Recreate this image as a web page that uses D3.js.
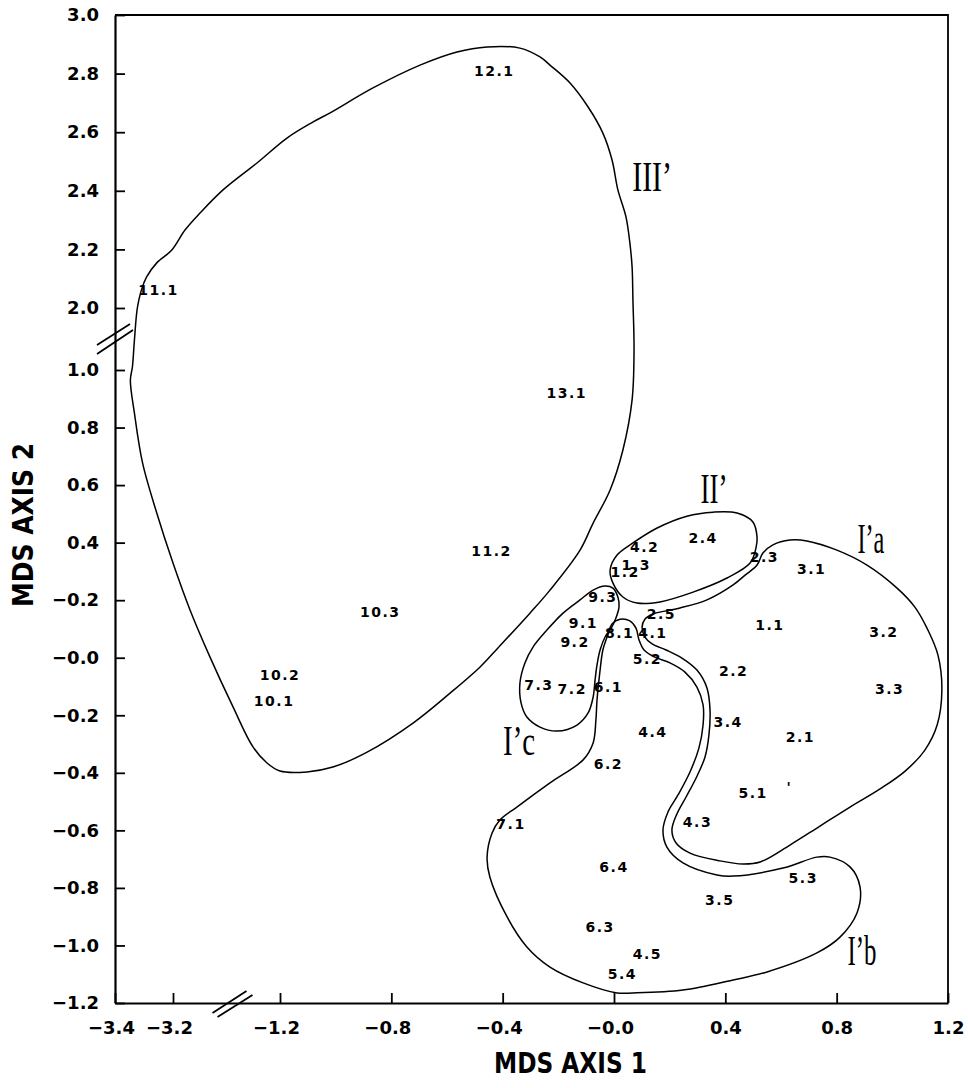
<!DOCTYPE html>
<html><head><meta charset="utf-8">
<script src="https://cdn.jsdelivr.net/npm/d3@7"></script>
<style>
body{margin:0;background:#fff;}
svg{display:block;}
</style></head>
<body>
<svg id="chart" width="968" height="1088"></svg>
<script>
// ---- tick values & labels ----
const xTickValues = [-3.4,-3.2,-1.2,-0.8,-0.4,0.0,0.4,0.8,1.2];
const xTickLabels = ["−3.4","−3.2","−1.2","−0.8","−0.4","−0.0","0.4","0.8","1.2"];
const yTickValues = [-1.2,-1.0,-0.8,-0.6,-0.4,-0.2,0.0,0.2,0.4,0.6,0.8,1.0,2.0,2.2,2.4,2.6,2.8,3.0];
const yTickLabels = ["−1.2","−1.0","−0.8","−0.6","−0.4","−0.2","−0.0","−0.2","0.4","0.6","0.8","1.0","2.0","2.2","2.4","2.6","2.8","3.0"];

// ---- point labels (MDS coordinates) ----
const pointNames = ["12.1","13.1","11.1","11.2","10.3","10.2","10.1","4.2","2.4","2.3","1.3","1.2","9.3","2.5","9.1","8.1","4.1","9.2","5.2","1.1","2.2","3.1","3.2","3.3","3.4","2.1","7.3","7.2","6.1","4.4","6.2","5.1","7.1","4.3","6.4","5.3","3.5","6.3","4.5","5.4","'"];
const pointX = [-0.43,-0.17,-3.25,-0.44,-0.84,-1.20,-1.31,0.11,0.32,0.54,0.08,0.04,-0.04,0.17,-0.11,0.02,0.14,-0.14,0.12,0.56,0.43,0.71,0.97,0.99,0.41,0.67,-0.27,-0.15,-0.02,0.14,-0.02,0.50,-0.37,0.30,0.00,0.68,0.38,-0.05,0.12,0.03,0.63];
const pointY = [2.81,0.92,2.06,0.37,0.16,-0.06,-0.15,0.385,0.416,0.35,0.322,0.298,0.211,0.152,0.121,0.086,0.086,0.055,-0.005,0.114,-0.046,0.308,0.089,-0.109,-0.223,-0.276,-0.095,-0.109,-0.102,-0.258,-0.369,-0.47,-0.578,-0.571,-0.727,-0.766,-0.842,-0.936,-1.03,-1.099,-0.45];

// ---- region labels ----
const regionNames = ["III’","II’","I’a","I’c","I’b"];
const regionX = [0.137,0.359,0.923,-0.341,0.891];
const regionY = [2.40,0.538,0.364,-0.338,-1.068];
const regionWidth = [40,27,27,32,29];

// ---- contours (MDS coordinates) ----
const contourIII = [[-3.347,0.965],[-3.340,1.048],[-3.333,1.484],[-3.323,2.0],[-3.309,2.061],[-3.291,2.106],[-3.256,2.154],[-3.204,2.198],[-2.976,2.266],[-2.695,2.324],[-2.265,2.403],[-1.630,2.495],[-1.175,2.580],[-1.081,2.635],[-1.020,2.666],[-0.866,2.751],[-0.697,2.829],[-0.564,2.874],[-0.456,2.891],[-0.338,2.887],[-0.266,2.857],[-0.230,2.829],[-0.158,2.768],[-0.093,2.686],[-0.040,2.597],[-0.007,2.505],[0.014,2.403],[0.043,2.311],[0.057,2.222],[0.065,2.140],[0.068,2.027],[0.072,1.323],[0.065,0.896],[0.032,0.722],[-0.014,0.583],[-0.075,0.468],[-0.122,0.374],[-0.230,0.235],[-0.302,0.155],[-0.417,0.034],[-0.481,-0.032],[-0.589,-0.123],[-0.722,-0.227],[-0.887,-0.328],[-1.010,-0.380],[-1.103,-0.397],[-1.200,-0.394],[-1.443,-0.366],[-1.705,-0.310],[-2.078,-0.171],[-2.508,0.002],[-2.882,0.166],[-3.200,0.329],[-3.256,0.503],[-3.305,0.677],[-3.333,0.850]];
const contourII = [[-0.014,0.305],[0.011,0.357],[0.068,0.399],[0.155,0.451],[0.262,0.492],[0.356,0.506],[0.442,0.503],[0.499,0.472],[0.514,0.419],[0.510,0.381],[0.489,0.329],[0.406,0.277],[0.284,0.228],[0.165,0.194],[0.083,0.190],[0.032,0.211],[-0.004,0.260]];
const contourIc = [[-0.032,0.072],[-0.050,0.027],[-0.061,-0.025],[-0.068,-0.077],[-0.075,-0.137],[-0.093,-0.192],[-0.133,-0.234],[-0.205,-0.255],[-0.266,-0.241],[-0.313,-0.206],[-0.334,-0.157],[-0.338,-0.088],[-0.320,-0.018],[-0.291,0.037],[-0.241,0.096],[-0.183,0.155],[-0.122,0.201],[-0.075,0.235],[-0.032,0.249],[-0.004,0.242],[0.014,0.211],[0.018,0.176],[0.004,0.131],[-0.014,0.096]];
const contourIb = [[-0.025,0.072],[-0.007,0.117],[0.022,0.134],[0.057,0.128],[0.079,0.103],[0.090,0.062],[0.108,0.027],[0.147,0.002],[0.201,-0.018],[0.255,-0.050],[0.298,-0.102],[0.320,-0.164],[0.320,-0.234],[0.305,-0.314],[0.273,-0.397],[0.230,-0.477],[0.194,-0.536],[0.176,-0.599],[0.190,-0.658],[0.248,-0.713],[0.370,-0.755],[0.428,-0.759],[0.607,-0.731],[0.729,-0.693],[0.776,-0.693],[0.848,-0.727],[0.884,-0.797],[0.873,-0.887],[0.812,-0.971],[0.729,-1.026],[0.550,-1.092],[0.428,-1.120],[0.248,-1.155],[0.068,-1.165],[0.011,-1.165],[-0.111,-1.130],[-0.230,-1.075],[-0.313,-1.005],[-0.384,-0.901],[-0.446,-0.762],[-0.456,-0.693],[-0.438,-0.609],[-0.410,-0.564],[-0.349,-0.519],[-0.230,-0.435],[-0.111,-0.355],[-0.075,-0.296],[-0.065,-0.216],[-0.061,-0.147],[-0.050,-0.043],[-0.040,0.027]];
const contourIa = [[0.514,0.322],[0.471,0.287],[0.428,0.253],[0.334,0.201],[0.237,0.173],[0.183,0.162],[0.140,0.152],[0.111,0.134],[0.101,0.107],[0.111,0.072],[0.137,0.048],[0.187,0.027],[0.244,-0.001],[0.298,-0.043],[0.334,-0.105],[0.345,-0.182],[0.341,-0.269],[0.327,-0.345],[0.295,-0.418],[0.259,-0.484],[0.226,-0.543],[0.208,-0.599],[0.223,-0.644],[0.273,-0.679],[0.381,-0.706],[0.463,-0.717],[0.525,-0.710],[0.632,-0.651],[0.740,-0.585],[0.848,-0.519],[0.956,-0.456],[1.046,-0.394],[1.117,-0.321],[1.161,-0.234],[1.178,-0.112],[1.164,0.009],[1.128,0.096],[1.081,0.176],[1.017,0.242],[0.909,0.322],[0.801,0.374],[0.693,0.406],[0.632,0.409],[0.571,0.392],[0.535,0.364]];
const contours = [contourIII, contourII, contourIc, contourIb, contourIa];

// ---- scales (broken axes as polylinear scales) ----
const x = d3.scaleLinear().domain([-3.4,-3.2,-1.2,1.2]).range([115,173,280,948]);
const y = d3.scaleLinear().domain([-1.2,1.0,2.0,3.0]).range([1003,370,308,15]);

const svg = d3.select("#chart");
const tickFont = "'DejaVu Sans', sans-serif";

// contours
const line = d3.line().x(d => x(d[0])).y(d => y(d[1])).curve(d3.curveCatmullRomClosed.alpha(0.5));
svg.append("g").selectAll("path").data(contours).join("path")
  .attr("d", line).attr("fill", "none").attr("stroke", "#000").attr("stroke-width", 1.5);

// frame
const [x0, x1] = [x(-3.4), x(1.2)];
const [y0, y1] = [y(-1.2), y(3.0)];
svg.append("path").attr("d", `M${x0},${y1}H${x1}V${y0}`).attr("fill","none").attr("stroke","#000").attr("stroke-width",1.8);

// axes
const xAxis = d3.axisBottom(x).tickValues(xTickValues).tickFormat((d,i) => xTickLabels[i])
  .tickSizeInner(-10).tickSizeOuter(0).tickPadding(18);
const gx = svg.append("g").attr("transform", `translate(0,${y0})`).call(xAxis);
gx.select(".domain").attr("stroke-width", 2.2);
gx.selectAll(".tick line").attr("stroke-width", 1.8);
gx.selectAll(".tick text").attr("font-family", tickFont).attr("font-weight", "bold").attr("font-size", 18)
  .attr("dx", (d,i) => xTickLabels[i].startsWith("−") ? -4 : 0);

const yAxis = d3.axisLeft(y).tickValues(yTickValues).tickFormat((d,i) => yTickLabels[i])
  .tickSizeInner(-10).tickSizeOuter(0).tickPadding(16);
const gy = svg.append("g").attr("transform", `translate(${x0},0)`).call(yAxis);
gy.select(".domain").attr("stroke-width", 2.2);
gy.selectAll(".tick line").attr("stroke-width", 1.8);
gy.selectAll(".tick text").attr("font-family", tickFont).attr("font-weight", "bold").attr("font-size", 18);

// break marks
const yb = (y(1.0) + y(2.0)) / 2;
const xb = (x(-3.2) + x(-1.2)) / 2 + 6;
const breaks = svg.append("g").attr("stroke", "#000").attr("stroke-width", 1.8);
breaks.append("line").attr("x1", x0 - 18).attr("y1", yb + 6).attr("x2", x0 + 15).attr("y2", yb - 15);
breaks.append("line").attr("x1", x0 - 18).attr("y1", yb + 15).attr("x2", x0 + 18).attr("y2", yb - 9);
breaks.append("line").attr("x1", xb - 20).attr("y1", y0 + 10).attr("x2", xb + 14).attr("y2", y0 - 12);
breaks.append("line").attr("x1", xb - 15).attr("y1", y0 + 14).attr("x2", xb + 20).attr("y2", y0 - 8);

// point labels
svg.append("g").selectAll("text").data(pointNames).join("text")
  .attr("x", (d,i) => x(pointX[i])).attr("y", (d,i) => y(pointY[i]))
  .attr("dy", "0.36em").attr("text-anchor", "middle")
  .attr("font-family", tickFont).attr("font-weight", "bold").attr("font-size", 14)
  .attr("letter-spacing", 1.5)
  .text(d => d);

// region labels
svg.append("g").selectAll("text").data(regionNames).join("text")
  .attr("x", (d,i) => x(regionX[i]) - regionWidth[i]/2).attr("y", (d,i) => y(regionY[i]))
  .attr("font-family", "'Liberation Serif', serif").attr("font-size", 42)
  .attr("textLength", (d,i) => regionWidth[i]).attr("lengthAdjust", "spacingAndGlyphs")
  .text(d => d);

// axis titles
svg.append("text").attr("x", 494).attr("y", 1073)
  .attr("font-family", "'DejaVu Sans', sans-serif").attr("font-weight", "bold").attr("font-size", 28)
  .attr("textLength", 153).attr("lengthAdjust", "spacingAndGlyphs")
  .text("MDS  AXIS 1");
svg.append("text").attr("transform", "translate(33,525) rotate(-90)").attr("x", -82).attr("y", 0)
  .attr("font-family", "'DejaVu Sans', sans-serif").attr("font-weight", "bold").attr("font-size", 28)
  .attr("textLength", 164).attr("lengthAdjust", "spacingAndGlyphs")
  .text("MDS  AXIS 2");
</script>
</body></html>
